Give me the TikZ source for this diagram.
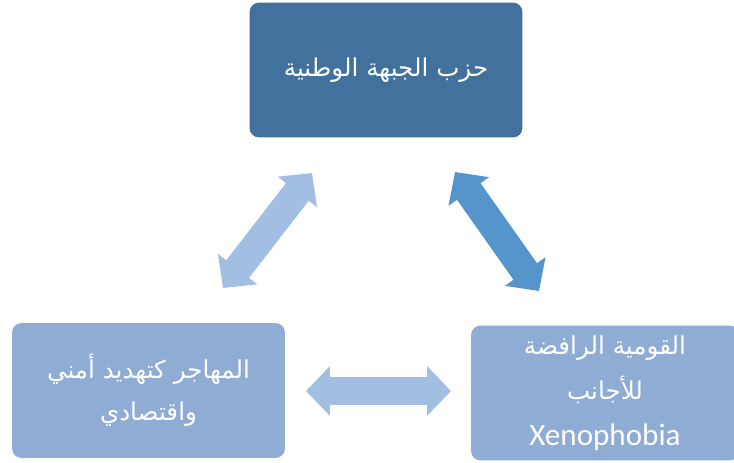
\documentclass[tikz,border=0pt]{standalone}
\usepackage{fontspec}
\usetikzlibrary{arrows.meta}
\newfontfamily\arabicfont[Script=Arabic]{DejaVu Sans}
\newfontfamily\latinfont{Carlito}
\TeXXeTstate=1
\definecolor{bleufonce}{RGB}{65,113,156}
\definecolor{bleuboite}{RGB}{143,172,213}
\definecolor{bleupale}{RGB}{162,190,226}
\definecolor{bleuvif}{RGB}{86,148,204}
\tikzset{
  boite/.style={rectangle, rounded corners=5.5pt, minimum width=5.46cm, minimum height=2.7cm,
    text=white, align=center, font=\arabicfont\fontsize{14}{26}\selectfont},
  fleche/.style={line width=16.4pt,
    {Triangle[width=27.5pt,length=13.6pt]}-{Triangle[width=27.5pt,length=13.6pt]}}
}

\begin{document}
\begin{tikzpicture}[x=0.02cm, y=-0.02cm]
  \useasboundingbox (0,0) rectangle (734,463);
  \clip (0,0) rectangle (734,463);

  % Boites
  \node[boite, fill=bleufonce] (parti) at (386,70) {\beginR حزب الجبهة الوطنية\endR};
  \node[boite, fill=bleuboite, font=\arabicfont\fontsize{14}{24}\selectfont] (migrant) at (148.5,390.5)
    {\beginR المهاجر كتهديد أمني\endR\\ \beginR واقتصادي\endR};
  \node[boite, fill=bleuboite, minimum width=5.36cm] (xeno) at (605,393)
    {\beginR القومية الرافضة\endR\\ \beginR للأجانب\endR\\ {\latinfont\fontsize{17.7}{25}\selectfont Xenophobia}};

  % Extremites des fleches
  \coordinate (g1) at (223,288);
  \coordinate (g2) at (312,173);
  \coordinate (d1) at (455,172);
  \coordinate (d2) at (539,291);
  \coordinate (b1) at (306,391);
  \coordinate (b2) at (451,391);

  % Fleches
  \draw[fleche, bleupale] (g1) -- (g2);
  \draw[fleche, bleuvif] (d1) -- (d2);
  \draw[fleche, bleupale] (b1) -- (b2);
\end{tikzpicture}
\end{document}
